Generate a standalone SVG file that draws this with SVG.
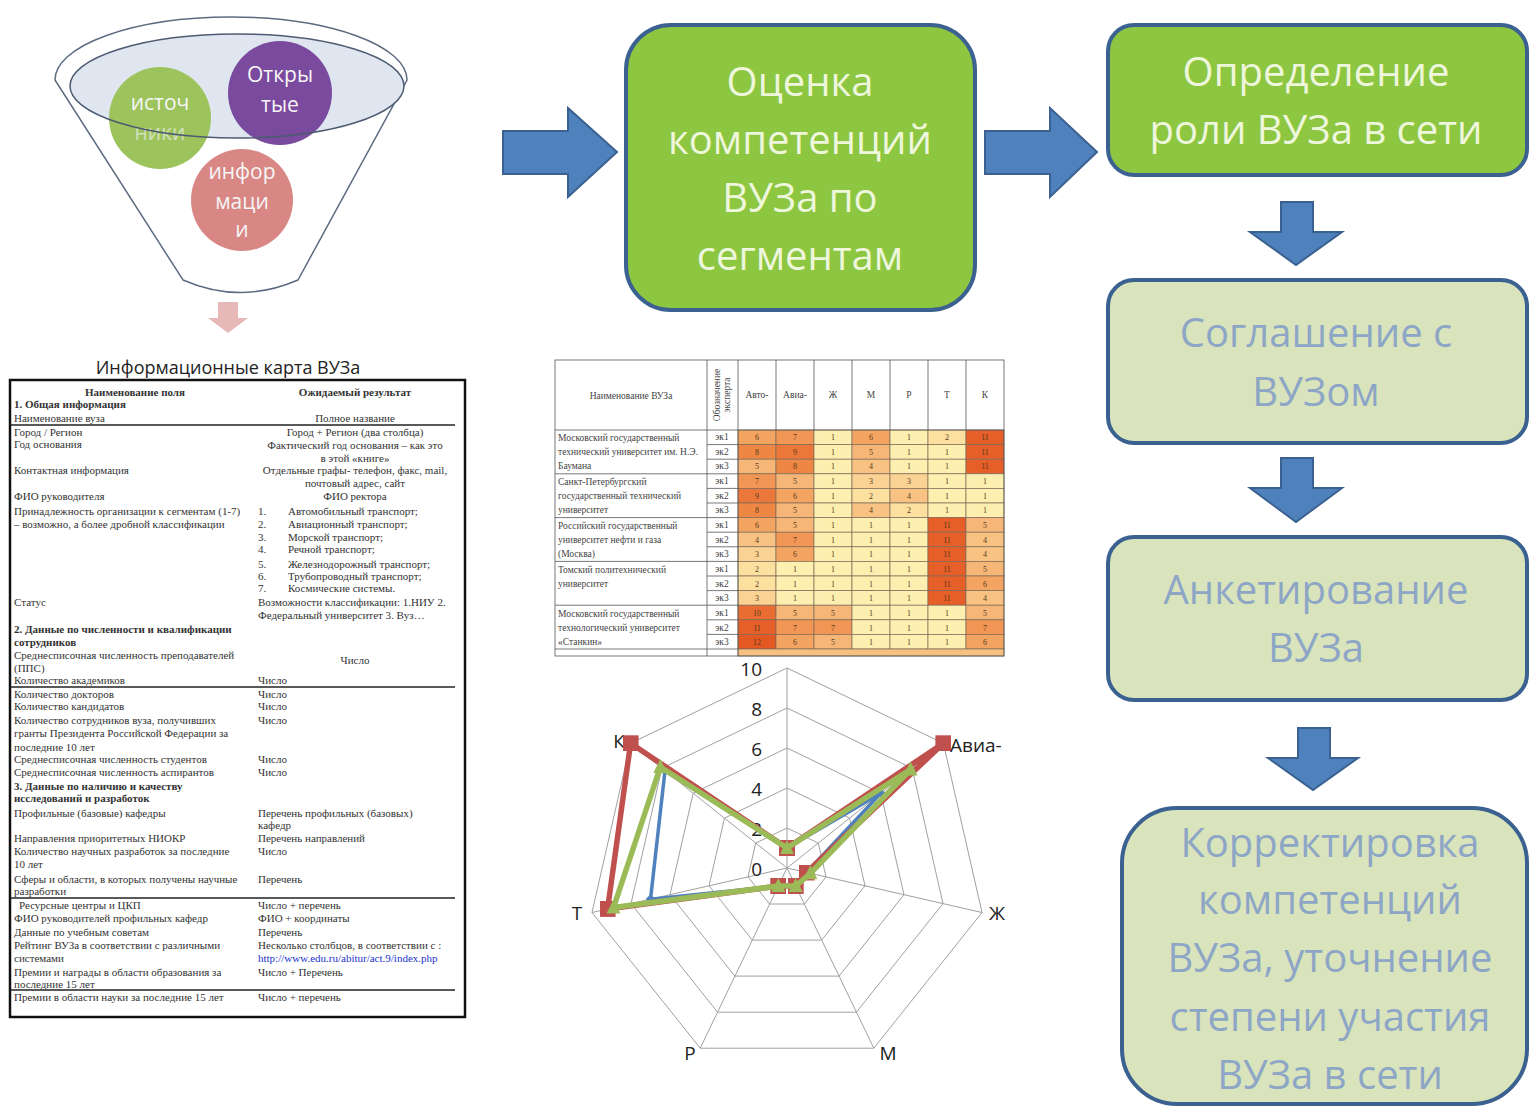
<svg xmlns="http://www.w3.org/2000/svg" width="1529" height="1108" viewBox="0 0 1529 1108">
<style>
.big{font-family:"Open Sans","Noto Sans",sans-serif;font-size:40px;text-anchor:middle}
.wt{fill:#eef6dc}
.bt{fill:#8ea6c6}
.gbox{fill:#8dc641;stroke:#3b6190;stroke-width:4}
.lbox{fill:#d9e4bd;stroke:#3b6190;stroke-width:4}
.barrow{fill:#4f81bd;stroke:#3a6190;stroke-width:2}
.ct{font-family:"Liberation Serif",serif;font-size:11px;fill:#333}
.cm{font-family:"Liberation Serif",serif;font-size:11px;fill:#333;text-anchor:middle}
.cb{font-weight:bold}
.circ{font-family:"Open Sans",sans-serif;font-size:21px;fill:#f6f6f6;text-anchor:middle}
.tn{font-family:"Liberation Serif",serif;font-size:9.5px;fill:#444}
.tv{font-family:"Liberation Serif",serif;font-size:8px;fill:#5a3a1a;text-anchor:middle}
.grid{fill:none;stroke:#a0a0a0;stroke-width:1}
.ax{font-family:"Open Sans","Liberation Sans",sans-serif;font-size:19px;fill:#222}
</style>
<defs>
<marker id="sq" markerWidth="16" markerHeight="16" refX="8" refY="8" markerUnits="userSpaceOnUse"><rect x="0" y="0" width="16" height="16" fill="#c0504d"/></marker>
<marker id="tri" markerWidth="16" markerHeight="16" refX="8" refY="9" markerUnits="userSpaceOnUse"><polygon points="8,1 15,15 1,15" fill="#9bbb59"/></marker>
<marker id="dia" markerWidth="10" markerHeight="10" refX="5" refY="5" markerUnits="userSpaceOnUse"><polygon points="5,0 10,5 5,10 0,5" fill="#4f81bd"/></marker>
</defs>
<rect width="1529" height="1108" fill="#ffffff"/>

<!-- Funnel -->
<g id="funnel">
  <path d="M55,80 A176,63 0 0 1 407,80 L298,280 Q240,305 183,280 Z" fill="#ffffff" stroke="#5d6b80" stroke-width="1.5"/>
  <ellipse cx="237" cy="86" rx="167" ry="52" fill="#dfe6f0"/>
  <circle cx="160" cy="118" r="51" fill="#9dc35c"/>
  <circle cx="280" cy="93" r="52" fill="#7a4a9e"/>
  <circle cx="242" cy="200" r="51" fill="#d98784"/>
  <text class="circ" x="160" y="110">источ</text>
  <text class="circ" x="160" y="140" opacity="0.6">ники</text>
  <text class="circ" x="280" y="82">Откры</text>
  <text class="circ" x="280" y="112">тые</text>
  <text class="circ" x="242" y="179">инфор</text>
  <text class="circ" x="242" y="209">маци</text>
  <text class="circ" x="242" y="237">и</text>
  <ellipse cx="237" cy="86" rx="167" ry="52" fill="none" stroke="#4d5b72" stroke-width="1.5"/>
  <polygon points="218,302 238,302 238,318 248,318 228,333 208,318 218,318" fill="#e6b9b8"/>
</g>

<!-- Info card -->
<g id="infocard">
  <text x="228" y="374" font-family="Open Sans, sans-serif" font-size="18" fill="#222" text-anchor="middle">Информационные карта ВУЗа</text>
  <rect x="10" y="380" width="455" height="637" fill="#ffffff" stroke="#111" stroke-width="2.5"/>
  <g stroke="#222" stroke-width="1.5">
    <line x1="10" y1="425" x2="455" y2="425"/>
    <line x1="10" y1="687" x2="455" y2="687"/>
    <line x1="10" y1="898" x2="455" y2="898"/>
    <line x1="10" y1="990" x2="455" y2="990"/>
  </g>
  <text class="cm cb" x="135" y="396">Наименование поля</text>
  <text class="cm cb" x="355" y="396">Ожидаемый результат</text>
  <text class="ct cb" x="14" y="408">1. Общая информация</text>
  <text class="ct" x="14" y="422">Наименование вуза</text>
  <text class="cm" x="355" y="422">Полное название</text>
  <text class="ct" x="14" y="436">Город / Регион</text>
  <text class="cm" x="355" y="436">Город + Регион (два столбца)</text>
  <text class="ct" x="14" y="448">Год основания</text>
  <text class="cm" x="355" y="449">Фактический год основания – как это</text>
  <text class="cm" x="355" y="462">в этой «книге»</text>
  <text class="ct" x="14" y="474">Контактная информация</text>
  <text class="cm" x="355" y="474">Отдельные графы- телефон, факс, mail,</text>
  <text class="cm" x="355" y="487">почтовый адрес, сайт</text>
  <text class="ct" x="14" y="500">ФИО руководителя</text>
  <text class="cm" x="355" y="500">ФИО ректора</text>
  <text class="ct" x="14" y="515">Принадлежность организации к сегментам (1-7)</text>
  <text class="ct" x="14" y="528">– возможно, а более дробной классификации</text>
  <text class="ct" x="258" y="515">1.</text><text class="ct" x="288" y="515">Автомобильный транспорт;</text>
  <text class="ct" x="258" y="528">2.</text><text class="ct" x="288" y="528">Авиационный транспорт;</text>
  <text class="ct" x="258" y="541">3.</text><text class="ct" x="288" y="541">Морской транспорт;</text>
  <text class="ct" x="258" y="553">4.</text><text class="ct" x="288" y="553">Речной транспорт;</text>
  <text class="ct" x="258" y="568">5.</text><text class="ct" x="288" y="568">Железнодорожный транспорт;</text>
  <text class="ct" x="258" y="580">6.</text><text class="ct" x="288" y="580">Трубопроводный транспорт;</text>
  <text class="ct" x="258" y="592">7.</text><text class="ct" x="288" y="592">Космические системы.</text>
  <text class="ct" x="14" y="606">Статус</text>
  <text class="ct" x="258" y="606">Возможности классификации: 1.НИУ 2.</text>
  <text class="ct" x="258" y="619">Федеральный университет 3. Вуз…</text>
  <text class="ct cb" x="14" y="633">2. Данные по численности и квалификации</text>
  <text class="ct cb" x="14" y="646">сотрудников</text>
  <text class="ct" x="14" y="659">Среднесписочная численность преподавателей</text>
  <text class="ct" x="14" y="672">(ППС)</text>
  <text class="cm" x="355" y="664">Число</text>
  <text class="ct" x="14" y="684">Количество академиков</text>
  <text class="ct" x="258" y="684">Число</text>
  <text class="ct" x="14" y="698">Количество докторов</text>
  <text class="ct" x="258" y="698">Число</text>
  <text class="ct" x="14" y="710">Количество кандидатов</text>
  <text class="ct" x="258" y="710">Число</text>
  <text class="ct" x="14" y="724">Количество сотрудников вуза, получивших</text>
  <text class="ct" x="258" y="724">Число</text>
  <text class="ct" x="14" y="737">гранты Президента Российской Федерации за</text>
  <text class="ct" x="14" y="751">последние 10 лет</text>
  <text class="ct" x="14" y="763">Среднесписочная численность студентов</text>
  <text class="ct" x="258" y="763">Число</text>
  <text class="ct" x="14" y="776">Среднесписочная численность аспирантов</text>
  <text class="ct" x="258" y="776">Число</text>
  <text class="ct cb" x="14" y="790">3. Данные по наличию и качеству</text>
  <text class="ct cb" x="14" y="802">исследований и разработок</text>
  <text class="ct" x="14" y="817">Профильные (базовые) кафедры</text>
  <text class="ct" x="258" y="817">Перечень профильных (базовых)</text>
  <text class="ct" x="258" y="829">кафедр</text>
  <text class="ct" x="14" y="842">Направления приоритетных НИОКР</text>
  <text class="ct" x="258" y="842">Перечень направлений</text>
  <text class="ct" x="14" y="855">Количество научных разработок за последние</text>
  <text class="ct" x="258" y="855">Число</text>
  <text class="ct" x="14" y="868">10 лет</text>
  <text class="ct" x="14" y="883">Сферы и области, в которых получены научные</text>
  <text class="ct" x="258" y="883">Перечень</text>
  <text class="ct" x="14" y="895">разработки</text>
  <text class="ct" x="19" y="909">Ресурсные центры и ЦКП</text>
  <text class="ct" x="258" y="909">Число + перечень</text>
  <text class="ct" x="14" y="922">ФИО руководителей профильных кафедр</text>
  <text class="ct" x="258" y="922">ФИО + координаты</text>
  <text class="ct" x="14" y="936">Данные по учебным советам</text>
  <text class="ct" x="258" y="936">Перечень</text>
  <text class="ct" x="14" y="949">Рейтинг ВУЗа в соответствии с различными</text>
  <text class="ct" x="258" y="949">Несколько столбцов, в соответствии с :</text>
  <text class="ct" x="14" y="962">системами</text>
  <text class="ct" x="258" y="962" style="fill:#2233cc">http://www.edu.ru/abitur/act.9/index.php</text>
  <text class="ct" x="14" y="976">Премии и награды в области образования за</text>
  <text class="ct" x="258" y="976">Число + Перечень</text>
  <text class="ct" x="14" y="988">последние 15 лет</text>
  <text class="ct" x="14" y="1001">Премии в области науки за последние 15 лет</text>
  <text class="ct" x="258" y="1001">Число + перечень</text>
</g>

<!-- Heatmap table -->
<g id="heatmap">
  <rect x="555" y="360" width="449" height="296" fill="#ffffff"/>
  <g fill="#fcefb0" stroke="#7d6a58" stroke-width="0.7">
    <rect x="738" y="430" width="38" height="14.6" fill="#f3a461"/><rect x="776" y="430" width="38" height="14.6" fill="#f19654"/><rect x="814" y="430" width="38" height="14.6"/><rect x="852" y="430" width="38" height="14.6" fill="#f3a461"/><rect x="890" y="430" width="38" height="14.6"/><rect x="928" y="430" width="38" height="14.6" fill="#fbe0a0"/><rect x="966" y="430" width="38" height="14.6" fill="#e65e28"/>
    <rect x="738" y="444.6" width="38" height="14.6" fill="#ee8644"/><rect x="776" y="444.6" width="38" height="14.6" fill="#eb783a"/><rect x="814" y="444.6" width="38" height="14.6"/><rect x="852" y="444.6" width="38" height="14.6" fill="#f5b678"/><rect x="890" y="444.6" width="38" height="14.6"/><rect x="928" y="444.6" width="38" height="14.6"/><rect x="966" y="444.6" width="38" height="14.6" fill="#e65e28"/>
    <rect x="738" y="459.2" width="38" height="14.6" fill="#f5b678"/><rect x="776" y="459.2" width="38" height="14.6" fill="#ee8644"/><rect x="814" y="459.2" width="38" height="14.6"/><rect x="852" y="459.2" width="38" height="14.6" fill="#f8c282"/><rect x="890" y="459.2" width="38" height="14.6"/><rect x="928" y="459.2" width="38" height="14.6"/><rect x="966" y="459.2" width="38" height="14.6" fill="#e65e28"/>
    <rect x="738" y="473.8" width="38" height="14.6" fill="#f19654"/><rect x="776" y="473.8" width="38" height="14.6" fill="#f5b678"/><rect x="814" y="473.8" width="38" height="14.6"/><rect x="852" y="473.8" width="38" height="14.6" fill="#fad294"/><rect x="890" y="473.8" width="38" height="14.6" fill="#fad294"/><rect x="928" y="473.8" width="38" height="14.6"/><rect x="966" y="473.8" width="38" height="14.6"/>
    <rect x="738" y="488.4" width="38" height="14.6" fill="#eb783a"/><rect x="776" y="488.4" width="38" height="14.6" fill="#f3a461"/><rect x="814" y="488.4" width="38" height="14.6"/><rect x="852" y="488.4" width="38" height="14.6" fill="#fbe0a0"/><rect x="890" y="488.4" width="38" height="14.6" fill="#f8c282"/><rect x="928" y="488.4" width="38" height="14.6"/><rect x="966" y="488.4" width="38" height="14.6"/>
    <rect x="738" y="503" width="38" height="14.6" fill="#ee8644"/><rect x="776" y="503" width="38" height="14.6" fill="#f5b678"/><rect x="814" y="503" width="38" height="14.6"/><rect x="852" y="503" width="38" height="14.6" fill="#f8c282"/><rect x="890" y="503" width="38" height="14.6" fill="#fbe0a0"/><rect x="928" y="503" width="38" height="14.6"/><rect x="966" y="503" width="38" height="14.6"/>
    <rect x="738" y="517.6" width="38" height="14.6" fill="#f3a461"/><rect x="776" y="517.6" width="38" height="14.6" fill="#f5b678"/><rect x="814" y="517.6" width="38" height="14.6"/><rect x="852" y="517.6" width="38" height="14.6"/><rect x="890" y="517.6" width="38" height="14.6"/><rect x="928" y="517.6" width="38" height="14.6" fill="#e65e28"/><rect x="966" y="517.6" width="38" height="14.6" fill="#f5b678"/>
    <rect x="738" y="532.2" width="38" height="14.6" fill="#f8c282"/><rect x="776" y="532.2" width="38" height="14.6" fill="#f19654"/><rect x="814" y="532.2" width="38" height="14.6"/><rect x="852" y="532.2" width="38" height="14.6"/><rect x="890" y="532.2" width="38" height="14.6"/><rect x="928" y="532.2" width="38" height="14.6" fill="#e65e28"/><rect x="966" y="532.2" width="38" height="14.6" fill="#f8c282"/>
    <rect x="738" y="546.8" width="38" height="14.6" fill="#fad294"/><rect x="776" y="546.8" width="38" height="14.6" fill="#f3a461"/><rect x="814" y="546.8" width="38" height="14.6"/><rect x="852" y="546.8" width="38" height="14.6"/><rect x="890" y="546.8" width="38" height="14.6"/><rect x="928" y="546.8" width="38" height="14.6" fill="#e65e28"/><rect x="966" y="546.8" width="38" height="14.6" fill="#f8c282"/>
    <rect x="738" y="561.4" width="38" height="14.6" fill="#fbe0a0"/><rect x="776" y="561.4" width="38" height="14.6"/><rect x="814" y="561.4" width="38" height="14.6"/><rect x="852" y="561.4" width="38" height="14.6"/><rect x="890" y="561.4" width="38" height="14.6"/><rect x="928" y="561.4" width="38" height="14.6" fill="#e65e28"/><rect x="966" y="561.4" width="38" height="14.6" fill="#f5b678"/>
    <rect x="738" y="576" width="38" height="14.6" fill="#fbe0a0"/><rect x="776" y="576" width="38" height="14.6"/><rect x="814" y="576" width="38" height="14.6"/><rect x="852" y="576" width="38" height="14.6"/><rect x="890" y="576" width="38" height="14.6"/><rect x="928" y="576" width="38" height="14.6" fill="#e65e28"/><rect x="966" y="576" width="38" height="14.6" fill="#f3a461"/>
    <rect x="738" y="590.6" width="38" height="14.6" fill="#fad294"/><rect x="776" y="590.6" width="38" height="14.6"/><rect x="814" y="590.6" width="38" height="14.6"/><rect x="852" y="590.6" width="38" height="14.6"/><rect x="890" y="590.6" width="38" height="14.6"/><rect x="928" y="590.6" width="38" height="14.6" fill="#e65e28"/><rect x="966" y="590.6" width="38" height="14.6" fill="#f8c282"/>
    <rect x="738" y="605.2" width="38" height="14.6" fill="#e96c32"/><rect x="776" y="605.2" width="38" height="14.6" fill="#f5b678"/><rect x="814" y="605.2" width="38" height="14.6" fill="#f5b678"/><rect x="852" y="605.2" width="38" height="14.6"/><rect x="890" y="605.2" width="38" height="14.6"/><rect x="928" y="605.2" width="38" height="14.6"/><rect x="966" y="605.2" width="38" height="14.6" fill="#f5b678"/>
    <rect x="738" y="619.8" width="38" height="14.6" fill="#e65e28"/><rect x="776" y="619.8" width="38" height="14.6" fill="#f19654"/><rect x="814" y="619.8" width="38" height="14.6" fill="#f19654"/><rect x="852" y="619.8" width="38" height="14.6"/><rect x="890" y="619.8" width="38" height="14.6"/><rect x="928" y="619.8" width="38" height="14.6"/><rect x="966" y="619.8" width="38" height="14.6" fill="#f19654"/>
    <rect x="738" y="634.4" width="38" height="14.6" fill="#e45824"/><rect x="776" y="634.4" width="38" height="14.6" fill="#f3a461"/><rect x="814" y="634.4" width="38" height="14.6" fill="#f5b678"/><rect x="852" y="634.4" width="38" height="14.6"/><rect x="890" y="634.4" width="38" height="14.6"/><rect x="928" y="634.4" width="38" height="14.6"/><rect x="966" y="634.4" width="38" height="14.6" fill="#f3a461"/>
    <rect x="738" y="649" width="266" height="7" fill="#f6c080"/>
  </g>
  <g fill="none" stroke="#555" stroke-width="0.8">
    <rect x="555" y="360" width="449" height="296"/>
    <line x1="555" y1="430" x2="1004" y2="430"/>
    <line x1="707" y1="360" x2="707" y2="656"/>
    <line x1="738" y1="360" x2="738" y2="656"/>
    <line x1="776" y1="360" x2="776" y2="430"/><line x1="814" y1="360" x2="814" y2="430"/><line x1="852" y1="360" x2="852" y2="430"/><line x1="890" y1="360" x2="890" y2="430"/><line x1="928" y1="360" x2="928" y2="430"/><line x1="966" y1="360" x2="966" y2="430"/>
    <line x1="555" y1="473.8" x2="738" y2="473.8"/><line x1="555" y1="517.6" x2="738" y2="517.6"/><line x1="555" y1="561.4" x2="738" y2="561.4"/><line x1="555" y1="605.2" x2="738" y2="605.2"/><line x1="555" y1="649" x2="738" y2="649"/>
    <line x1="707" y1="444.6" x2="738" y2="444.6"/><line x1="707" y1="459.2" x2="738" y2="459.2"/><line x1="707" y1="488.4" x2="738" y2="488.4"/><line x1="707" y1="503" x2="738" y2="503"/><line x1="707" y1="532.2" x2="738" y2="532.2"/><line x1="707" y1="546.8" x2="738" y2="546.8"/><line x1="707" y1="576" x2="738" y2="576"/><line x1="707" y1="590.6" x2="738" y2="590.6"/><line x1="707" y1="619.8" x2="738" y2="619.8"/><line x1="707" y1="634.4" x2="738" y2="634.4"/>
  </g>
  <text class="tn" x="631" y="399" text-anchor="middle" font-size="10.5">Наименование ВУЗа</text>
  <text class="tn" transform="translate(720,395) rotate(-90)" text-anchor="middle" font-size="7.5">Обозначение</text>
  <text class="tn" transform="translate(730,395) rotate(-90)" text-anchor="middle" font-size="7.5">эксперта</text>
  <g class="tn" text-anchor="middle" font-size="8.5">
    <text x="757" y="398">Авто-</text><text x="795" y="398">Авиа-</text><text x="833" y="398">Ж</text><text x="871" y="398">М</text><text x="909" y="398">Р</text><text x="947" y="398">Т</text><text x="985" y="398">К</text>
  </g>
  <g class="tn">
    <text x="558" y="441">Московский государственный</text>
    <text x="558" y="455">технический университет им. Н.Э.</text>
    <text x="558" y="469">Баумана</text>
    <text x="558" y="485">Санкт-Петербургский</text>
    <text x="558" y="499">государственный технический</text>
    <text x="558" y="513">университет</text>
    <text x="558" y="529">Российский государственный</text>
    <text x="558" y="543">университет нефти и газа</text>
    <text x="558" y="557">(Москва)</text>
    <text x="558" y="573">Томский политехнический</text>
    <text x="558" y="587">университет</text>
    <text x="558" y="617">Московский государственный</text>
    <text x="558" y="631">технологический университет</text>
    <text x="558" y="645">«Станкин»</text>
  </g>
  <g class="tn" text-anchor="middle" font-size="7.5">
    <text x="722" y="440">эк1</text><text x="722" y="455">эк2</text><text x="722" y="469">эк3</text>
    <text x="722" y="484">эк1</text><text x="722" y="499">эк2</text><text x="722" y="513">эк3</text>
    <text x="722" y="528">эк1</text><text x="722" y="543">эк2</text><text x="722" y="557">эк3</text>
    <text x="722" y="572">эк1</text><text x="722" y="587">эк2</text><text x="722" y="601">эк3</text>
    <text x="722" y="616">эк1</text><text x="722" y="631">эк2</text><text x="722" y="645">эк3</text>
  </g>
  <g class="tv">
    <text x="757" y="440">6</text><text x="795" y="440">7</text><text x="833" y="440">1</text><text x="871" y="440">6</text><text x="909" y="440">1</text><text x="947" y="440">2</text><text x="985" y="440">11</text>
    <text x="757" y="455">8</text><text x="795" y="455">9</text><text x="833" y="455">1</text><text x="871" y="455">5</text><text x="909" y="455">1</text><text x="947" y="455">1</text><text x="985" y="455">11</text>
    <text x="757" y="469">5</text><text x="795" y="469">8</text><text x="833" y="469">1</text><text x="871" y="469">4</text><text x="909" y="469">1</text><text x="947" y="469">1</text><text x="985" y="469">11</text>
    <text x="757" y="484">7</text><text x="795" y="484">5</text><text x="833" y="484">1</text><text x="871" y="484">3</text><text x="909" y="484">3</text><text x="947" y="484">1</text><text x="985" y="484">1</text>
    <text x="757" y="499">9</text><text x="795" y="499">6</text><text x="833" y="499">1</text><text x="871" y="499">2</text><text x="909" y="499">4</text><text x="947" y="499">1</text><text x="985" y="499">1</text>
    <text x="757" y="513">8</text><text x="795" y="513">5</text><text x="833" y="513">1</text><text x="871" y="513">4</text><text x="909" y="513">2</text><text x="947" y="513">1</text><text x="985" y="513">1</text>
    <text x="757" y="528">6</text><text x="795" y="528">5</text><text x="833" y="528">1</text><text x="871" y="528">1</text><text x="909" y="528">1</text><text x="947" y="528">11</text><text x="985" y="528">5</text>
    <text x="757" y="543">4</text><text x="795" y="543">7</text><text x="833" y="543">1</text><text x="871" y="543">1</text><text x="909" y="543">1</text><text x="947" y="543">11</text><text x="985" y="543">4</text>
    <text x="757" y="557">3</text><text x="795" y="557">6</text><text x="833" y="557">1</text><text x="871" y="557">1</text><text x="909" y="557">1</text><text x="947" y="557">11</text><text x="985" y="557">4</text>
    <text x="757" y="572">2</text><text x="795" y="572">1</text><text x="833" y="572">1</text><text x="871" y="572">1</text><text x="909" y="572">1</text><text x="947" y="572">11</text><text x="985" y="572">5</text>
    <text x="757" y="587">2</text><text x="795" y="587">1</text><text x="833" y="587">1</text><text x="871" y="587">1</text><text x="909" y="587">1</text><text x="947" y="587">11</text><text x="985" y="587">6</text>
    <text x="757" y="601">3</text><text x="795" y="601">1</text><text x="833" y="601">1</text><text x="871" y="601">1</text><text x="909" y="601">1</text><text x="947" y="601">11</text><text x="985" y="601">4</text>
    <text x="757" y="616">10</text><text x="795" y="616">5</text><text x="833" y="616">5</text><text x="871" y="616">1</text><text x="909" y="616">1</text><text x="947" y="616">1</text><text x="985" y="616">5</text>
    <text x="757" y="631">11</text><text x="795" y="631">7</text><text x="833" y="631">7</text><text x="871" y="631">1</text><text x="909" y="631">1</text><text x="947" y="631">1</text><text x="985" y="631">7</text>
    <text x="757" y="645">12</text><text x="795" y="645">6</text><text x="833" y="645">5</text><text x="871" y="645">1</text><text x="909" y="645">1</text><text x="947" y="645">1</text><text x="985" y="645">6</text>
  </g>
</g>

<!-- Radar chart -->
<g id="radar">
  <polygon class="grid" points="787,668 943.4,743.3 982,912.5 873.8,1048.2 700.2,1048.2 592,912.5 630.6,743.3"/>
  <polygon class="grid" points="787,708 912.1,768.2 943,903.6 856.4,1012.2 717.6,1012.2 631,903.6 661.9,768.2"/>
  <polygon class="grid" points="787,748 880.8,793.2 904,894.7 839.1,976.1 734.9,976.1 670,894.7 693.2,793.2"/>
  <polygon class="grid" points="787,788 849.5,818.1 865,885.8 821.7,940.1 752.3,940.1 709,885.8 724.5,818.1"/>
  <polygon class="grid" points="787,828 818.3,843.1 826,876.9 804.4,904 769.6,904 748,876.9 755.7,843.1"/>
  <g stroke="#a0a0a0" stroke-width="1">
    <line x1="787" y1="868" x2="787" y2="668"/>
    <line x1="787" y1="868" x2="943.4" y2="743.3"/>
    <line x1="787" y1="868" x2="982" y2="912.5"/>
    <line x1="787" y1="868" x2="873.8" y2="1048.2"/>
    <line x1="787" y1="868" x2="700.2" y2="1048.2"/>
    <line x1="787" y1="868" x2="592" y2="912.5"/>
    <line x1="787" y1="868" x2="630.6" y2="743.3"/>
  </g>
  <g class="ax">
    <text x="762" y="676" text-anchor="end">10</text>
    <text x="762" y="716" text-anchor="end">8</text>
    <text x="762" y="756" text-anchor="end">6</text>
    <text x="762" y="796" text-anchor="end">4</text>
    <text x="762" y="836" text-anchor="end">2</text>
    <text x="762" y="876" text-anchor="end">0</text>
    <text x="950" y="752">Авиа-</text>
    <text x="997" y="920" text-anchor="middle">Ж</text>
    <text x="888" y="1060" text-anchor="middle">М</text>
    <text x="690" y="1060" text-anchor="middle">Р</text>
    <text x="577" y="920" text-anchor="middle">Т</text>
    <text x="619" y="748" text-anchor="middle">К</text>
  </g>
  <polygon points="787,848 880.8,793.2 806.5,872.5 795.7,886 778.3,886 650.5,899.2 665,770.7" fill="none" stroke="#4f81bd" stroke-width="3.5" stroke-linejoin="round" marker-start="url(#dia)" marker-mid="url(#dia)"/>
  <polygon points="787,848 943.4,743.3 806.5,872.5 795.7,886 778.3,886 607.6,908.9 630.6,743.3" fill="none" stroke="#c0504d" stroke-width="5.5" stroke-linejoin="round" marker-start="url(#sq)" marker-mid="url(#sq)"/>
  <polygon points="787,848 910.5,769.5 810.4,873.3 795.7,886 778.3,886 613.5,907.6 660.3,767" fill="none" stroke="#9bbb59" stroke-width="5.5" stroke-linejoin="round" marker-start="url(#tri)" marker-mid="url(#tri)"/>
</g>

<!-- Process boxes -->
<g id="box-ocenka">
  <rect class="gbox" x="626" y="25" width="349" height="285" rx="45"/>
  <text class="big wt" x="800" y="96">Оценка</text>
  <text class="big wt" x="800" y="154">компетенций</text>
  <text class="big wt" x="800" y="212">ВУЗа по</text>
  <text class="big wt" x="800" y="270">сегментам</text>
</g>
<g id="box-rol">
  <rect class="gbox" x="1108" y="25" width="419" height="150" rx="26"/>
  <text class="big wt" x="1316" y="86">Определение</text>
  <text class="big wt" x="1316" y="144">роли ВУЗа в сети</text>
</g>
<g id="box-soglashenie">
  <rect class="lbox" x="1108" y="280" width="419" height="163" rx="26"/>
  <text class="big bt" x="1316" y="347">Соглашение с</text>
  <text class="big bt" x="1316" y="406">ВУЗом</text>
</g>
<g id="box-anketa">
  <rect class="lbox" x="1108" y="537" width="419" height="163" rx="26"/>
  <text class="big bt" x="1316" y="604">Анкетирование</text>
  <text class="big bt" x="1316" y="662">ВУЗа</text>
</g>
<g id="box-korrekt">
  <rect class="lbox" x="1122" y="808" width="405" height="296" rx="55"/>
  <text class="big bt" x="1330" y="857">Корректировка</text>
  <text class="big bt" x="1330" y="914">компетенций</text>
  <text class="big bt" x="1330" y="972">ВУЗа, уточнение</text>
  <text class="big bt" x="1330" y="1031">степени участия</text>
  <text class="big bt" x="1330" y="1089">ВУЗа в сети</text>
</g>

<!-- Connectors -->
<g id="connectors">
  <polygon class="barrow" points="503,131 568,131 568,108 617,152 568,197 568,174 503,174"/>
  <polygon class="barrow" points="985,131 1050,131 1050,108 1097,152 1050,197 1050,174 985,174"/>
  <polygon class="barrow" points="1281,202 1313,202 1313,232 1342,232 1296,265 1250,232 1281,232"/>
  <polygon class="barrow" points="1281,458 1313,458 1313,488 1342,488 1296,522 1250,488 1281,488"/>
  <polygon class="barrow" points="1298,728 1330,728 1330,758 1358,758 1313,790 1268,758 1298,758"/>
</g>
</svg>
